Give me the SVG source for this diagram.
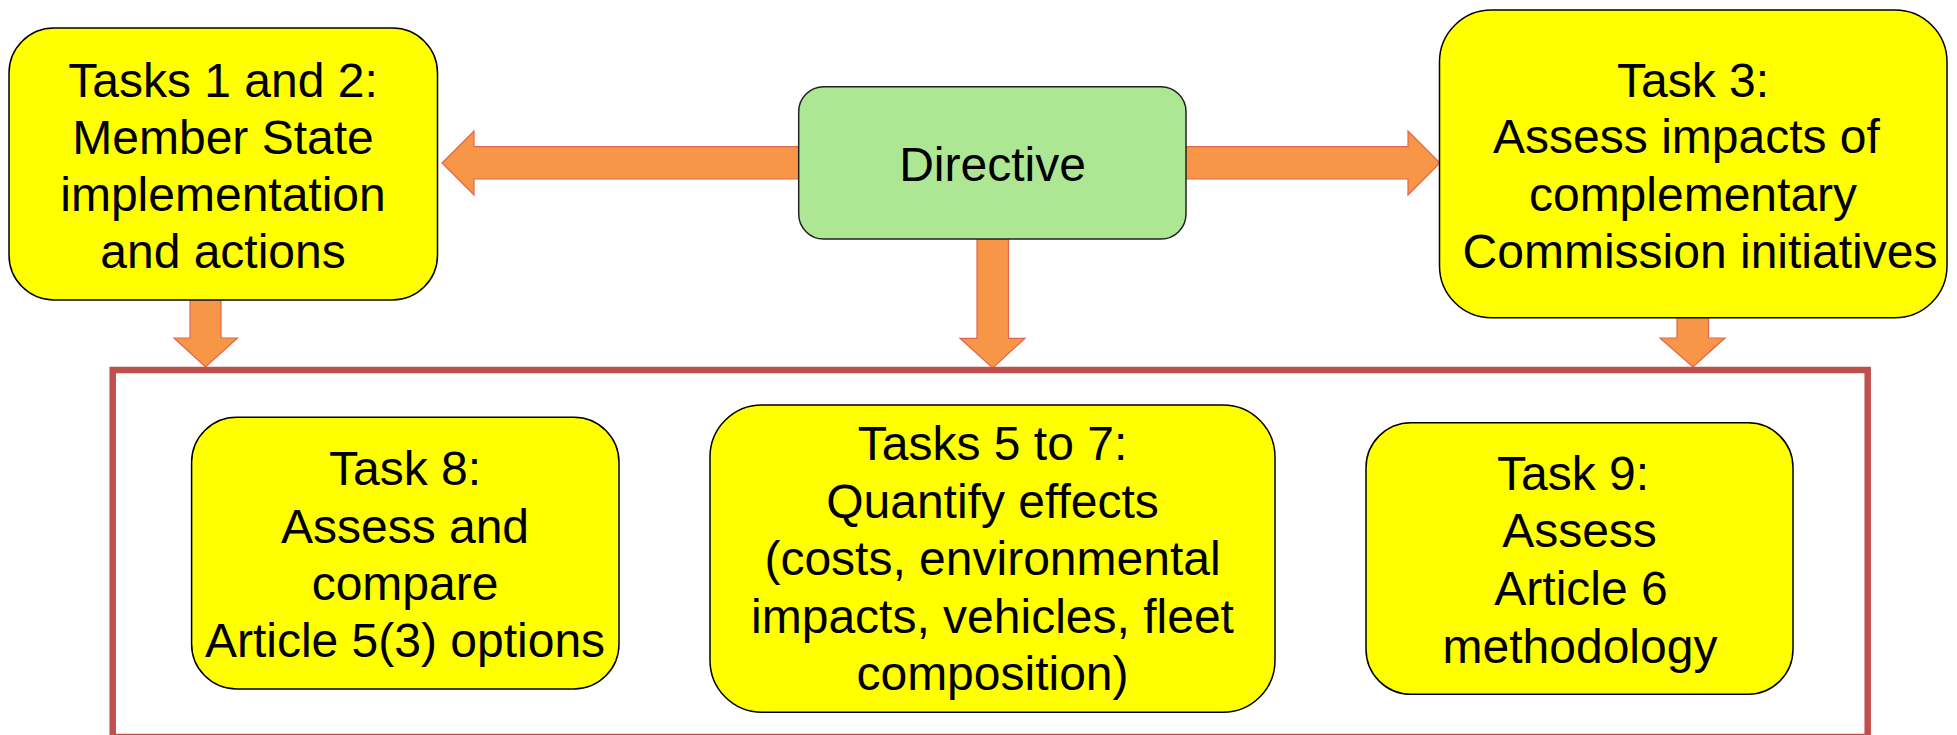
<svg xmlns="http://www.w3.org/2000/svg" width="1957" height="735" viewBox="0 0 1957 735">
<style>
.task{fill:#FFFF00;stroke:#000;stroke-width:1.5}
.dir{fill:#AEE794;stroke:#222;stroke-width:1.5}
.arrow{fill:#F79646;stroke:#E0674E;stroke-width:1.2}
.frame{fill:none;stroke:#C0504D;stroke-width:6.5}
text{font-family:"Liberation Sans",Arial,sans-serif;font-size:48px;fill:#000;text-anchor:middle}
</style>
<rect width="1957" height="735" fill="#fff"/>
<g id="connectors">
<polygon class="arrow" points="442,163 474,131 474,146.7 800,146.7 800,179 474,179 474,195"/>
<polygon class="arrow" points="1185,146.7 1408,146.7 1408,131 1440,163 1408,195 1408,179 1185,179"/>
<polygon class="arrow" points="190,299 221,299 221,338 237.5,338 205.5,367 174,338 190,338"/>
<polygon class="arrow" points="977,238 1008.5,238 1008.5,338.3 1025,338.3 992.7,368 960,338.3 977,338.3"/>
<polygon class="arrow" points="1677,317 1708.5,317 1708.5,338 1725,338 1693,367 1660,338 1677,338"/>
</g>
<rect id="frame" class="frame" x="112.7" y="370" width="1755" height="367"/>
<g id="tasks12">
<rect class="task" x="9" y="28" width="428.5" height="272" rx="45"/>
<text x="223" y="96.7">Tasks 1 and 2:</text>
<text x="223" y="153.5">Member State</text>
<text x="223" y="211">implementation</text>
<text x="223" y="268">and actions</text>
</g>
<g id="directive">
<rect class="dir" x="798.7" y="86.7" width="387.3" height="152.3" rx="25"/>
<text x="992.5" y="181">Directive</text>
</g>
<g id="task3">
<rect class="task" x="1439.5" y="10" width="507.5" height="307.7" rx="52"/>
<text x="1693" y="96.5">Task 3:</text>
<text x="1686.5" y="153">Assess impacts of</text>
<text x="1693" y="210.5">complementary</text>
<text x="1700" y="268">Commission initiatives</text>
</g>
<g id="task8">
<rect class="task" x="191.6" y="417.3" width="427.4" height="271.7" rx="45"/>
<text x="405" y="485">Task 8:</text>
<text x="405" y="542.5">Assess and</text>
<text x="405" y="599.5">compare</text>
<text x="405" y="656.7">Article 5(3) options</text>
</g>
<g id="tasks57">
<rect class="task" x="710" y="405" width="565" height="307.3" rx="52"/>
<text x="992.5" y="460">Tasks 5 to 7:</text>
<text x="992.5" y="517.5">Quantify effects</text>
<text x="992.5" y="575">(costs, environmental</text>
<text x="992.5" y="632.5">impacts, vehicles, fleet</text>
<text x="992.5" y="690">composition)</text>
</g>
<g id="task9">
<rect class="task" x="1366" y="422.7" width="427" height="271.6" rx="45"/>
<text x="1573" y="490">Task 9:</text>
<text x="1579.5" y="547.3">Assess</text>
<text x="1581" y="605">Article 6</text>
<text x="1580" y="662.7">methodology</text>
</g>
</svg>
